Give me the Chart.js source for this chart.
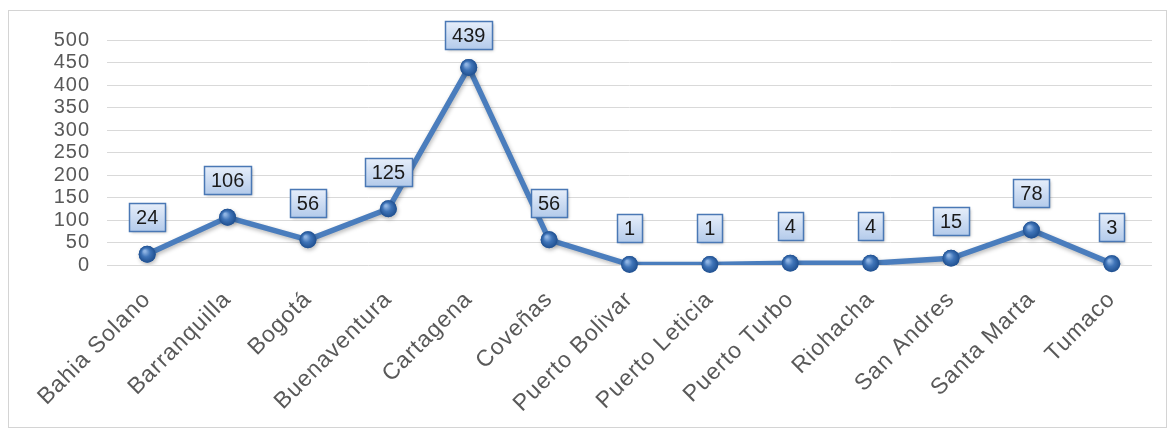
<!DOCTYPE html>
<html>
<head>
<meta charset="utf-8">
<script src="https://cdn.jsdelivr.net/npm/chart.js@4/dist/chart.umd.min.js"></script>
<style>
html,body{margin:0;padding:0;background:#fff;}
#frame{position:absolute;left:8px;top:10px;width:1157px;height:416px;border:1px solid #d4d4d4;box-sizing:content-box;}
#c{display:block;}
</style>
</head>
<body>
<div id="frame"><canvas id="c" width="1157" height="416"></canvas></div>
<script>
const categories = ["Bahia Solano","Barranquilla","Bogotá","Buenaventura","Cartagena","Coveñas","Puerto Bolivar","Puerto Leticia","Puerto Turbo","Riohacha","San Andres","Santa Marta","Tumaco"];
const values = [24,106,56,125,439,56,1,1,4,4,15,78,3];
const yMin = 0, yMax = 500, yStep = 50;

const spacingPlugin = {
  id: 'spacing',
  beforeInit(chart){ chart.ctx.letterSpacing = '1px'; },
  beforeDraw(chart){ chart.ctx.letterSpacing = '1px'; }
};

const labelPlugin = {
  id: 'boxLabels',
  beforeDatasetsDraw(chart){
    const ctx = chart.ctx;
    ctx.save();
    ctx.shadowColor = 'rgba(0,0,0,0.28)';
    ctx.shadowBlur = 4;
    ctx.shadowOffsetX = 1;
    ctx.shadowOffsetY = 2;
  },
  afterDatasetsDraw(chart){
    const ctx = chart.ctx;
    ctx.restore();
    const meta = chart.getDatasetMeta(0);
    meta.data.forEach(pt => {
      const r = 8.5;
      const g = ctx.createRadialGradient(pt.x - 2.5, pt.y - 3, 1, pt.x, pt.y, r);
      g.addColorStop(0, '#8fb4e3');
      g.addColorStop(0.45, '#3f74b8');
      g.addColorStop(1, '#1f4f8f');
      ctx.beginPath();
      ctx.arc(pt.x, pt.y, r, 0, Math.PI * 2);
      ctx.fillStyle = g;
      ctx.fill();
    });
    ctx.save();
    ctx.letterSpacing = '0px';
    ctx.font = '20px "Liberation Sans", Arial, sans-serif';
    ctx.textAlign = 'center';
    ctx.textBaseline = 'middle';
    meta.data.forEach((pt, i) => {
      const txt = String(values[i]);
      const tw = ctx.measureText(txt).width;
      const w = Math.round(tw + 14), h = 28;
      let top = pt.y - 23 - h;
      if (top < 10) top = 10;
      const left = Math.round(pt.x - w / 2) + 0.5;
      top = Math.round(top) + 0.5;
      ctx.save();
      ctx.shadowColor = 'rgba(0,0,0,0.3)';
      ctx.shadowBlur = 3;
      ctx.shadowOffsetX = 1;
      ctx.shadowOffsetY = 1;
      const g = ctx.createLinearGradient(0, top, 0, top + h);
      g.addColorStop(0, '#e6eefa');
      g.addColorStop(1, '#b3caea');
      ctx.fillStyle = g;
      ctx.fillRect(left, top, w, h);
      ctx.restore();
      ctx.strokeStyle = '#4a78b5';
      ctx.lineWidth = 1.5;
      ctx.strokeRect(left, top, w, h);
      ctx.fillStyle = '#1a1a1a';
      ctx.fillText(txt, pt.x, top + h / 2 + 1);
    });
    ctx.restore();
  }
};

new Chart(document.getElementById('c'), {
  type: 'line',
  data: {
    labels: categories,
    datasets: [{
      data: values,
      borderColor: '#4a7dbd',
      borderWidth: 5.5,
      pointRadius: 8.5,
      pointBackgroundColor: '#3f74b8',
      pointBorderWidth: 0,
      tension: 0,
      fill: false
    }]
  },
  options: {
    responsive: false,
    animation: false,
    devicePixelRatio: 1,
    layout: { padding: { left: 38, right: 14, top: 19, bottom: 2 } },
    plugins: { legend: { display: false }, tooltip: { enabled: false } },
    scales: {
      x: {
        offset: true,
        grid: { display: false },
        border: { display: false },
        afterFit(scale){ scale.height = 160; },
        ticks: {
          autoSkip: false,
          maxRotation: 45,
          minRotation: 45,
          padding: 13,
          color: '#595959',
          font: { family: '"Liberation Sans", Arial, sans-serif', size: 23 }
        }
      },
      y: {
        min: yMin,
        max: yMax,
        afterFit(scale){ scale.width = 60; },
        grid: { color: '#d9d9d9', drawTicks: false, lineWidth: 1 },
        border: { display: false },
        ticks: {
          stepSize: yStep,
          autoSkip: false,
          padding: 17,
          color: '#595959',
          font: { family: '"Liberation Sans", Arial, sans-serif', size: 20 }
        }
      }
    }
  },
  plugins: [spacingPlugin, labelPlugin]
});
</script>
</body>
</html>
